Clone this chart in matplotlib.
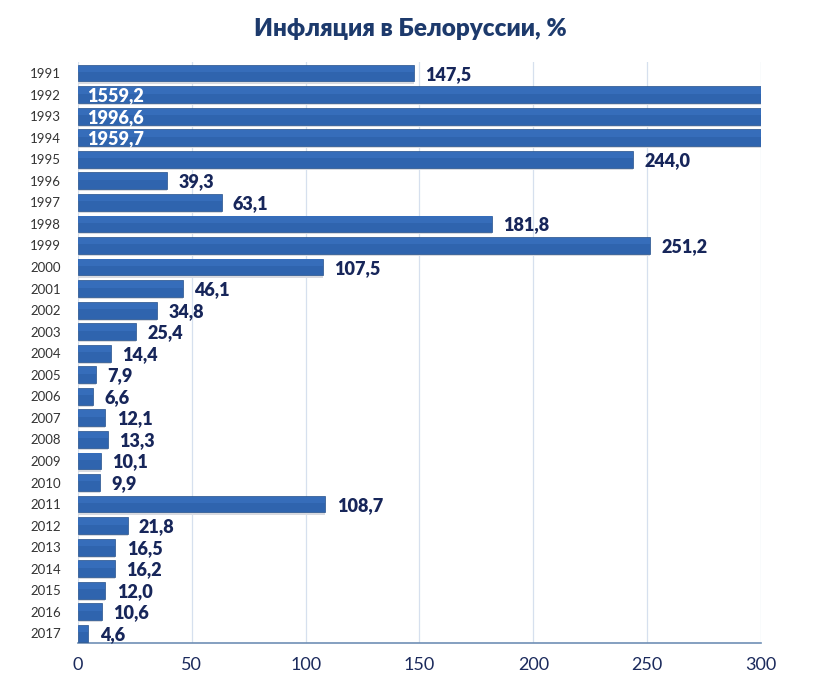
import matplotlib.pyplot as plt
import numpy as np

# data
years = [str(y) for y in range(1991, 2018)]
values = [147.5, 1559.2, 1996.6, 1959.7, 244.0, 39.3, 63.1, 181.8, 251.2, 107.5,
          46.1, 34.8, 25.4, 14.4, 7.9, 6.6, 12.1, 13.3, 10.1, 9.9,
          108.7, 21.8, 16.5, 16.2, 12.0, 10.6, 4.6]
xticks = [0, 50, 100, 150, 200, 250, 300]

plt.rcParams['font.family'] = ['Lato', 'DejaVu Sans']

fig = plt.figure(figsize=(8.2, 7), dpi=100)
ax = fig.add_axes([0.095, 0.081, 0.833, 0.83])

xmax = 300
y = np.arange(len(years))
shown = [min(v, xmax) for v in values]

bar_col = '#2f64ae'
label_col = '#17265a'

# soft shadow under each bar, then the bar with a slightly lighter top half
ax.barh(y + 0.1, shown, height=0.78, color='#d8dae0', zorder=2)
ax.barh(y, shown, height=0.78, color=bar_col, edgecolor='#26528c', linewidth=0.5, zorder=3)
ax.barh(y - 0.2, shown, height=0.3, color='#366dba', linewidth=0, zorder=3.5)

for i, v in enumerate(values):
    txt = ('%.1f' % v).replace('.', ',')
    if v > xmax:
        ax.text(4, i + 0.05, txt, va='center', ha='left', color='white',
                fontsize=13, fontweight='heavy', zorder=4)
    else:
        ax.text(v + 5, i + 0.05, txt, va='center', ha='left', color=label_col,
                fontsize=13, fontweight='heavy', zorder=4)

ax.set_xlim(0, xmax)
ax.set_ylim(len(years) - 0.54, -0.5)
ax.set_yticks(y)
ax.set_yticklabels(years, fontsize=9.5, color='#333333')
ax.set_xticks(xticks)
ax.set_xticklabels([str(t) for t in xticks], fontsize=13, color='#1b2a5c')
ax.tick_params(axis='y', length=0, pad=12)
ax.tick_params(axis='x', length=0, pad=10)

ax.grid(axis='x', color='#d6e0ee', linewidth=0.9, zorder=0)
ax.set_axisbelow(True)
for s in ['top', 'right', 'left']:
    ax.spines[s].set_visible(False)
ax.spines['bottom'].set_color('#6f8fb5')
ax.spines['bottom'].set_linewidth(1.2)

fig.text(0.5, 0.958, 'Инфляция в Белоруссии, %', ha='center', va='center',
         fontsize=17.5, fontweight='heavy', color='#1d3a6c')

fig.savefig('out.png', dpi=100, facecolor='white')
